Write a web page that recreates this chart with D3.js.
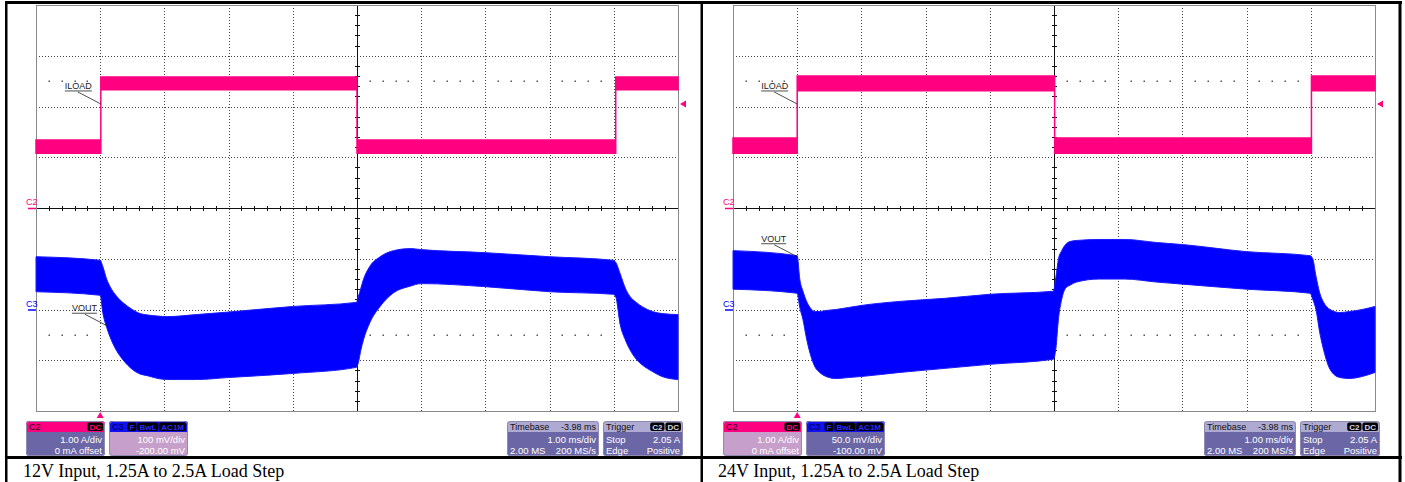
<!DOCTYPE html>
<html>
<head>
<meta charset="utf-8">
<script src="https://cdn.jsdelivr.net/npm/d3@7"></script>
<style>
  body { margin: 0; background: #fff; }
  svg { display: block; }
</style>
</head>
<body>
<script>
// values read off the two scope captures
// time is ms from the left edge of the screen (1.00 ms/div, 10 div)
const captions = ['12V Input, 1.25A to 2.5A Load Step', '24V Input, 1.25A to 2.5A Load Step'];

// ILOAD band, amps (C2, 1.00 A/div, 0 mA offset)
const iload12T   = [0, 1.01, 1.01, 5.0, 5.0, 9.03, 9.03, 10];
const iload12Top = [1.34, 1.34, 2.58, 2.58, 1.34, 1.34, 2.58, 2.58];
const iload12Bot = [1.08, 1.08, 2.33, 2.33, 1.08, 1.08, 2.33, 2.33];

const iload24T   = [0, 1.0, 1.0, 5.01, 5.01, 9.01, 9.01, 10];
const iload24Top = [1.38, 1.38, 2.6, 2.6, 1.38, 1.38, 2.6, 2.6];
const iload24Bot = [1.08, 1.08, 2.31, 2.31, 1.08, 1.08, 2.31, 2.31];

// VOUT ripple envelope, mV (C3, AC coupled)
const vout12T   = [0, 1.0, 1.04, 1.1, 1.15, 1.25, 1.36, 1.5, 1.6, 1.75, 1.9, 2.05, 2.5, 3.0, 4.0, 4.99,
                   5.02, 5.06, 5.1, 5.2, 5.36, 5.57, 5.83, 6.0, 7.0, 8.0, 8.99,
                   9.03, 9.1, 9.18, 9.25, 9.35, 9.45, 9.6, 9.75, 10];
const vout12Top = [104, 97, 85, 60, 46, 27, 13, 0, -7, -11, -13, -14, -10, -5, 6, 14,
                   25, 42, 59, 85, 104, 116, 120, 118, 112, 104, 97,
                   93, 70, 42, 26, 14, 5, -4, -8, -10];
const vout12Bot = [35, 28, -6, -35, -53, -80, -100, -118, -126, -131, -136, -138, -138, -134, -126, -114,
                   -105, -80, -60, -26, 6, 33, 46, 51, 45, 35, 30,
                   25, -30, -60, -79, -98, -110, -122, -132, -138];

const vout24T   = [0, 1.0, 1.04, 1.09, 1.14, 1.2, 1.28, 1.35, 1.45, 1.6, 1.8, 2.0, 2.6, 3.3, 4.0, 4.99,
                   5.03, 5.07, 5.12, 5.18, 5.25, 5.35, 5.7, 6.1, 6.6, 7.0, 8.0, 8.99,
                   9.03, 9.08, 9.14, 9.2, 9.3, 9.45, 9.6, 9.8, 10];
const vout24Top = [58, 53, 30, 18, 9, 2, -2, -2, -1, 0, 2, 4, 8, 11, 15, 18,
                   32, 50, 58, 64, 67, 68, 69, 69, 66, 64, 57, 53,
                   50, 33, 16, 7, 0, -3, -2, 0, 3];
const vout24Bot = [20, 16, 2, -10, -27, -43, -57, -62, -66, -68, -67, -66, -62, -58, -54, -49,
                   -38, -9, 10, 21, 24, 27, 30, 30, 27, 25, 20, 16,
                   10, 0, -23, -40, -59, -67, -68, -66, -62];

const c3Scale12 = ['100 mV/div', '-200.00 mV'];
const c3Scale24 = ['50.0 mV/div', '-100.00 mV'];
const c2Scale = ['1.00 A/div', '0 mA offset'];
const timebaseRows = [['', '1.00 ms/div'], ['2.00 MS', '200 MS/s']];
const triggerRows = [['Stop', '2.05 A'], ['Edge', 'Positive']];
const trigLevelA = 2.05;
const trigTimeMs = 1.0;

const W = 1405, H = 482;
const PINK = '#ff0080', BLUE = '#0000ff';
const SLATE = '#6b66a5', LAV = '#c6a0ca';
const SANS = "'Liberation Sans', Arial, sans-serif";

const panels = [
  { x0: 36, capX: 23, mvDiv: 100, offMv: -200, c3Rows: c3Scale12, c2Body: SLATE, c3Body: LAV,
    iT: iload12T, iTop: iload12Top, iBot: iload12Bot, vT: vout12T, vTop: vout12Top, vBot: vout12Bot,
    iLabelT: 1.01, vLabelT: 1.12, vLabelV: -33, cap: captions[0] },
  { x0: 733, capX: 718, mvDiv: 50, offMv: -100, c3Rows: c3Scale24, c2Body: LAV, c3Body: SLATE,
    iT: iload24T, iTop: iload24Top, iBot: iload24Bot, vT: vout24T, vTop: vout24Top, vBot: vout24Bot,
    iLabelT: 1.0, vLabelT: 1.0, vLabelV: 52, cap: captions[1] }
];

const svg = d3.select('body').append('svg')
  .attr('width', W).attr('height', H)
  .style('background', '#fff');

let clipN = 0;

function drawBox(g, o) {
  const y = 421, h = 35, hh = 11;
  const id = 'bx' + (clipN++);
  g.append('clipPath').attr('id', id)
    .append('rect').attr('x', o.x).attr('y', y).attr('width', o.w).attr('height', h).attr('rx', 3);
  const b = g.append('g').attr('clip-path', `url(#${id})`);
  b.append('rect').attr('x', o.x).attr('y', y).attr('width', o.w).attr('height', hh).attr('fill', o.headFill);
  b.append('rect').attr('x', o.x).attr('y', y + hh).attr('width', o.w).attr('height', h - hh).attr('fill', o.body);
  g.append('rect')
    .attr('x', o.x + 0.5).attr('y', y + 0.5).attr('width', o.w - 1).attr('height', h - 1).attr('rx', 3)
    .attr('fill', 'none').attr('stroke', '#8f8bb0');

  g.append('text').attr('x', o.x + 3).attr('y', y + 9)
    .style('font', `9px ${SANS}`).attr('fill', o.headInk).text(o.head);

  // badges, laid out from the right
  let bx = o.x + o.w - 2;
  (o.badges || []).slice().reverse().forEach(t => {
    const tx = g.append('text').attr('y', y + 8.8)
      .style('font', `bold 8px ${SANS}`).attr('fill', o.badgeInk).text(t);
    const tw = tx.node().getComputedTextLength();
    bx -= tw + 4;
    tx.attr('x', bx + 2);
    g.insert('rect', () => tx.node())
      .attr('x', bx).attr('y', y + 1.5).attr('width', tw + 4).attr('height', 8.5).attr('rx', 2)
      .attr('fill', '#000');
    bx -= 1;
  });
  if (o.headRight) {
    g.append('text').attr('x', o.x + o.w - 3).attr('y', y + 9).attr('text-anchor', 'end')
      .style('font', `9px ${SANS}`).attr('fill', o.headInk).text(o.headRight);
  }

  o.rows.forEach((r, i) => {
    const by = y + 21.5 + i * 11;
    const left = Array.isArray(r) ? r[0] : '';
    const right = Array.isArray(r) ? r[1] : r;
    if (left) g.append('text').attr('x', o.x + 3).attr('y', by)
      .style('font', `9.5px ${SANS}`).attr('fill', '#fff').text(left);
    g.append('text').attr('x', o.x + o.w - 3).attr('y', by).attr('text-anchor', 'end')
      .style('font', `9.5px ${SANS}`).attr('fill', '#fff').text(right);
  });
}

function drawPanel(p) {
  const g = svg.append('g');
  const x = d3.scaleLinear().domain([0, 10]).range([p.x0, p.x0 + 642]);
  const div = d3.scaleLinear().domain([-4, 4]).range([411, 5]);
  const yI = d3.scaleLinear().domain([-4, 4]).range([411, 5]);
  const mid = -p.offMv;
  const yV = d3.scaleLinear().domain([mid - 4 * p.mvDiv, mid + 4 * p.mvDiv]).range([411, 5]);
  const [X0, X1] = x.range();
  const [Y1, Y0] = div.range();
  const cx = x(5), cy = div(0);

  // dotted graticule
  const grid = g.append('g').attr('stroke', '#444').attr('stroke-width', 1).attr('stroke-dasharray', '1,2');
  d3.range(1, 10).filter(t => t !== 5).forEach(t => {
    const xx = Math.round(x(t)) + 0.5;
    grid.append('line').attr('x1', xx).attr('x2', xx).attr('y1', Y0).attr('y2', Y1);
  });
  d3.range(-3, 4).filter(d => d !== 0).forEach(d => {
    const yy = Math.round(div(d)) + 0.5;
    grid.append('line').attr('x1', X0).attr('x2', X1).attr('y1', yy).attr('y2', yy);
  });
  // minor dot rows at +-2.5 div
  [2.5, -2.5].forEach(d => {
    const yy = Math.round(div(d));
    d3.range(0, 50).filter(k => k % 5 !== 0).forEach(k => {
      g.append('rect').attr('x', Math.round(x(k / 5)) - 0.5).attr('y', yy - 0.5)
        .attr('width', 1.5).attr('height', 1.5).attr('fill', '#555');
    });
  });

  // solid centre axes with fifth-division ticks
  const ax = g.append('g').attr('stroke', '#111').attr('stroke-width', 1);
  ax.append('line').attr('x1', Math.round(cx) + 0.5).attr('x2', Math.round(cx) + 0.5).attr('y1', Y0).attr('y2', Y1);
  ax.append('line').attr('x1', X0).attr('x2', X1).attr('y1', Math.round(cy) + 0.5).attr('y2', Math.round(cy) + 0.5);
  d3.range(-20, 21).filter(k => k % 5 !== 0).forEach(k => {
    const yy = Math.round(div(k / 5)) + 0.5;
    ax.append('line').attr('x1', cx - 2).attr('x2', cx + 3).attr('y1', yy).attr('y2', yy);
  });
  d3.range(0, 51).filter(k => k % 5 !== 0).forEach(k => {
    const xx = Math.round(x(k / 5)) + 0.5;
    ax.append('line').attr('x1', xx).attr('x2', xx).attr('y1', cy - 2).attr('y2', cy + 3);
  });

  // screen border
  g.append('rect').attr('x', X0 + 0.5).attr('y', Y0 + 0.5).attr('width', X1 - X0).attr('height', Y1 - Y0)
    .attr('fill', 'none').attr('stroke', '#8a8a8a');

  // ILOAD trace
  const iIdx = d3.range(p.iT.length);
  g.append('path').datum(iIdx)
    .attr('d', d3.area().x(i => x(p.iT[i])).y0(i => yI(p.iBot[i])).y1(i => yI(p.iTop[i])))
    .attr('fill', PINK).attr('stroke', PINK).attr('stroke-width', 1.5);

  // VOUT trace
  const vIdx = d3.range(p.vT.length);
  g.append('path').datum(vIdx)
    .attr('d', d3.area().x(i => x(p.vT[i])).y0(i => yV(p.vBot[i])).y1(i => yV(p.vTop[i])).curve(d3.curveMonotoneX))
    .attr('fill', BLUE).attr('stroke', '#1a1aff').attr('stroke-width', 1);

  // channel ground markers
  [[yI(0), 'C2', PINK], [yV(0), 'C3', BLUE]].forEach(([yy, t, c]) => {
    g.append('text').attr('x', X0 - 10).attr('y', yy - 3)
      .style('font', `9px ${SANS}`).attr('fill', c).text(t);
    g.append('line').attr('x1', X0 - 8).attr('x2', X0).attr('y1', yy + 0.5).attr('y2', yy + 0.5)
      .attr('stroke', c).attr('stroke-width', 1.5);
  });

  // trigger level and position markers
  const ty = yI(trigLevelA);
  g.append('path').attr('d', `M${X1 + 2},${ty}L${X1 + 8},${ty - 3.5}L${X1 + 8},${ty + 3.5}Z`).attr('fill', PINK);
  const tx = x(trigTimeMs);
  g.append('path').attr('d', `M${tx},${Y1 + 1}L${tx - 3.5},${Y1 + 7}L${tx + 3.5},${Y1 + 7}Z`).attr('fill', PINK);

  // trace labels with leaders
  const label = (px, py, txt) => {
    const sx = px - 23, sy = py - 12;
    g.append('line').attr('x1', sx).attr('y1', sy).attr('x2', px).attr('y2', py)
      .attr('stroke', '#222').attr('stroke-width', 0.8);
    const t = g.append('text').attr('x', sx - 13).attr('y', sy - 3)
      .style('font', `9px ${SANS}`).attr('fill', '#222').text(txt);
    const w = t.node().getComputedTextLength();
    g.append('line').attr('x1', sx - 13).attr('x2', sx - 13 + w).attr('y1', sy - 1).attr('y2', sy - 1)
      .attr('stroke', '#222').attr('stroke-width', 0.8);
  };
  label(x(p.iLabelT), yI(trigLevelA), 'ILOAD');
  label(x(p.vLabelT), yV(p.vLabelV), 'VOUT');

  // readout boxes
  drawBox(g, { x: X0 - 10, w: 79, head: 'C2', headFill: PINK, headInk: '#2a0018',
    badges: ['DC'], badgeInk: PINK, body: p.c2Body, rows: c2Scale });
  drawBox(g, { x: X0 + 73, w: 79, head: 'C3', headFill: '#1010f0', headInk: '#00004a',
    badges: ['F', 'BwL', 'AC1M'], badgeInk: '#2a2aff', body: p.c3Body, rows: p.c3Rows });
  drawBox(g, { x: X0 + 471, w: 92, head: 'Timebase', headRight: '-3.98 ms', headFill: '#aeaad2', headInk: '#111',
    body: SLATE, rows: timebaseRows });
  drawBox(g, { x: X0 + 567, w: 80, head: 'Trigger', headFill: '#aeaad2', headInk: '#111',
    badges: ['C2', 'DC'], badgeInk: '#d8d8e8', body: SLATE, rows: triggerRows });

  // caption
  svg.append('text').attr('x', p.capX).attr('y', 477)
    .style('font', "18px 'Liberation Serif', 'Times New Roman', serif").attr('fill', '#000').text(p.cap);
}

panels.forEach(drawPanel);

// table rules
const rules = svg.append('g').attr('fill', '#000');
rules.append('rect').attr('x', 5).attr('y', 1).attr('width', 1397).attr('height', 3);
rules.append('rect').attr('x', 5).attr('y', 1).attr('width', 2.5).attr('height', H);
rules.append('rect').attr('x', 700.5).attr('y', 1).attr('width', 2.5).attr('height', H);
rules.append('rect').attr('x', 1398.5).attr('y', 1).attr('width', 3).attr('height', H);
rules.append('rect').attr('x', 5).attr('y', 456).attr('width', 1397).attr('height', 3);
</script>
</body>
</html>
